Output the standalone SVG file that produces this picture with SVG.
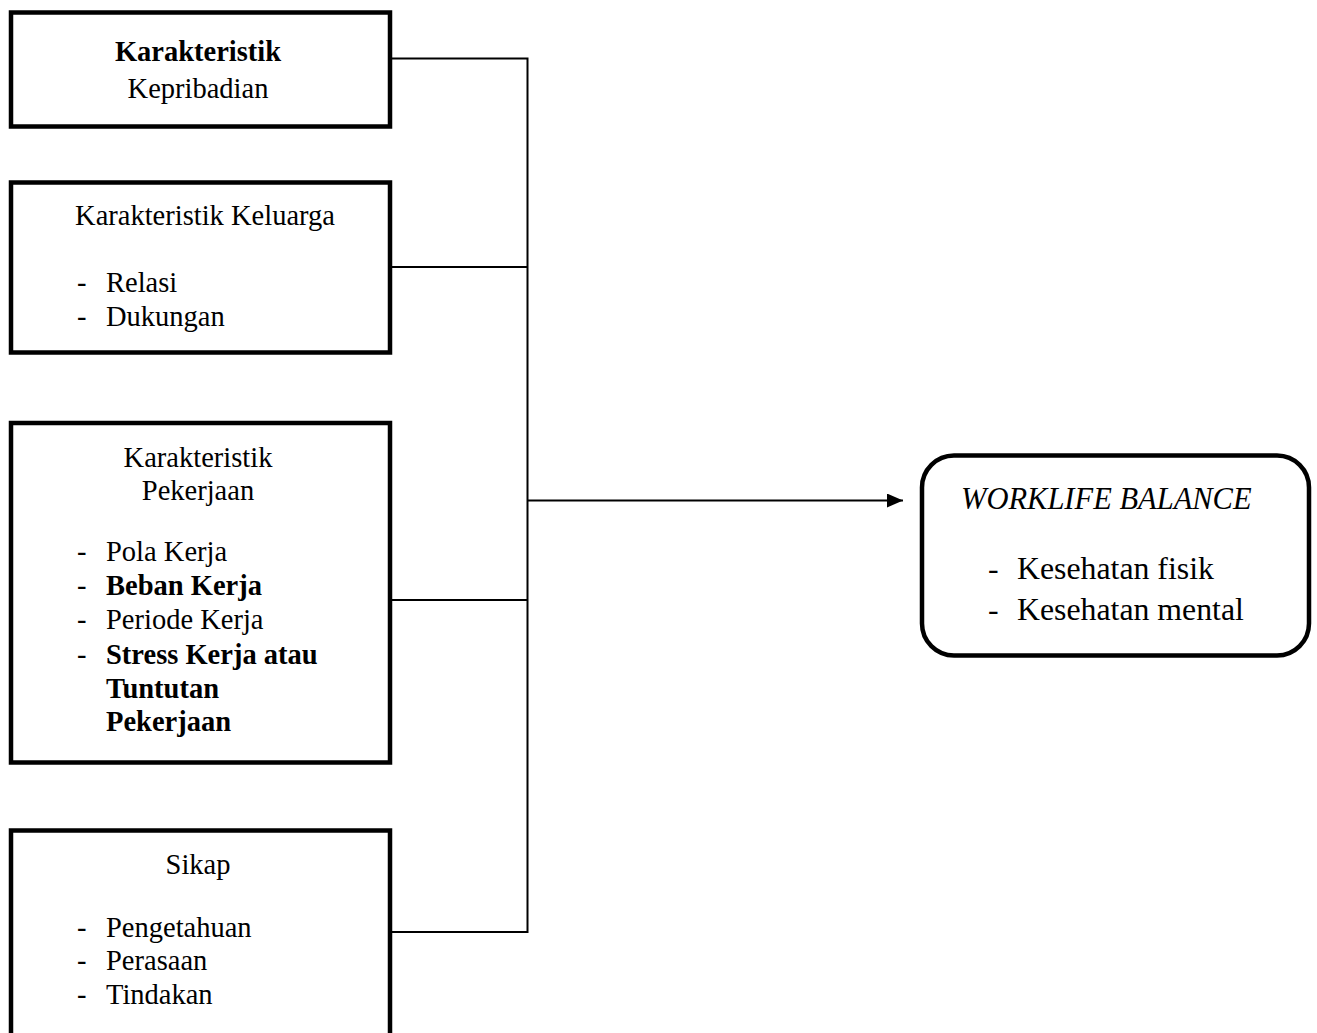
<svg xmlns="http://www.w3.org/2000/svg" width="1317" height="1033" viewBox="0 0 1317 1033">
  <style>
    .box { fill: #ffffff; stroke: #000000; stroke-width: 4.5; }
    .conn { fill: none; stroke: #000000; stroke-width: 2; }
    text { font-family: "Liberation Serif", "Times New Roman", serif; fill: #000000; }
    .l { font-size: 28.5px; }
    .r { font-size: 31.8px; }
    .c { text-anchor: middle; }
    .b { font-weight: bold; }
    .i { font-style: italic; }
  </style>
  <defs>
    <marker id="arrow" markerWidth="16" markerHeight="14" refX="16" refY="7" orient="auto" markerUnits="userSpaceOnUse">
      <path d="M0,0 L16,7 L0,14 Z" fill="#000000"/>
    </marker>
  </defs>

  <g id="connectors">
    <path class="conn" d="M392,58.5 H527.5 V932 H392"/>
    <path class="conn" d="M392,267 H527.5"/>
    <path class="conn" d="M392,600 H527.5"/>
    <path class="conn" d="M527.5,500.5 H903" marker-end="url(#arrow)"/>
  </g>

  <g id="node-kepribadian">
    <rect class="box" x="11" y="12.5" width="379" height="114"/>
    <text class="l c b" x="198" y="60.5">Karakteristik</text>
    <text class="l c" x="198" y="98">Kepribadian</text>
  </g>

  <g id="node-keluarga">
    <rect class="box" x="11" y="182.5" width="379" height="170"/>
    <text class="l c" x="205" y="225">Karakteristik Keluarga</text>
    <text class="l" x="77" y="291.5">-</text><text class="l" x="106" y="291.5">Relasi</text>
    <text class="l" x="77" y="326">-</text><text class="l" x="106" y="326">Dukungan</text>
  </g>

  <g id="node-pekerjaan">
    <rect class="box" x="11" y="423" width="379" height="339.5"/>
    <text class="l c" x="198" y="466.5">Karakteristik</text>
    <text class="l c" x="198" y="500">Pekerjaan</text>
    <text class="l" x="77" y="560.5">-</text><text class="l" x="106" y="560.5">Pola Kerja</text>
    <text class="l" x="77" y="594.5">-</text><text class="l b" x="106" y="594.5">Beban Kerja</text>
    <text class="l" x="77" y="629">-</text><text class="l" x="106" y="629">Periode Kerja</text>
    <text class="l" x="77" y="664">-</text><text class="l b" x="106" y="664">Stress Kerja atau</text>
    <text class="l b" x="106" y="697.5">Tuntutan</text>
    <text class="l b" x="106" y="731">Pekerjaan</text>
  </g>

  <g id="node-sikap">
    <rect class="box" x="11" y="830.5" width="379" height="260"/>
    <text class="l c" x="198" y="874">Sikap</text>
    <text class="l" x="77" y="936.5">-</text><text class="l" x="106" y="936.5">Pengetahuan</text>
    <text class="l" x="77" y="970">-</text><text class="l" x="106" y="970">Perasaan</text>
    <text class="l" x="77" y="1004">-</text><text class="l" x="106" y="1004">Tindakan</text>
  </g>

  <g id="node-worklife">
    <rect class="box" x="922" y="455.5" width="387" height="200" rx="32" ry="32"/>
    <text class="r i" x="961" y="508.5" style="font-size:30.5px">WORKLIFE BALANCE</text>
    <text class="r" x="988" y="578.5">-</text><text class="r" x="1017" y="578.5">Kesehatan fisik</text>
    <text class="r" x="988" y="620">-</text><text class="r" x="1017" y="620">Kesehatan mental</text>
  </g>
</svg>
